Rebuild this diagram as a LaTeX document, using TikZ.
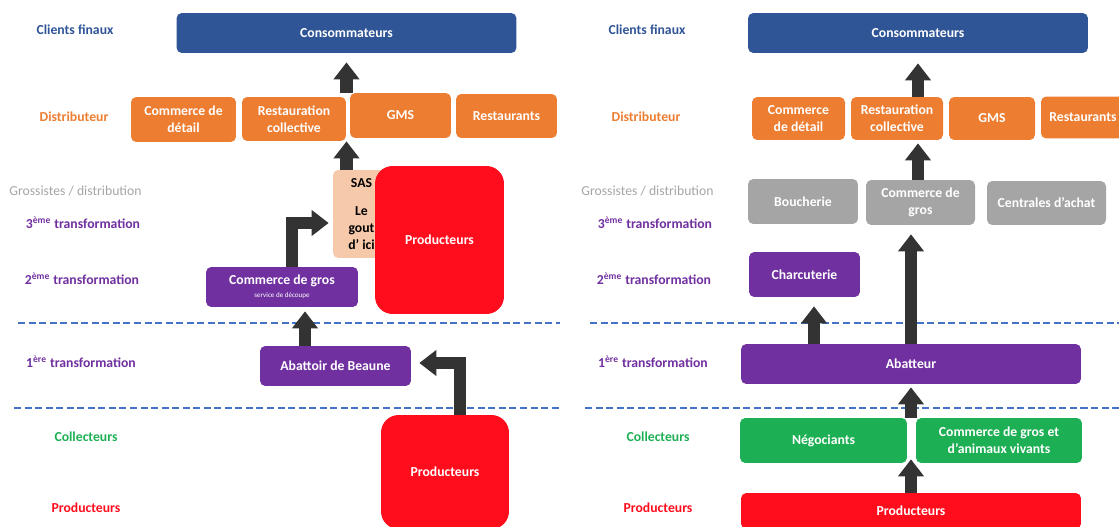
\documentclass[tikz,border=0pt]{standalone}
\usepackage{fontspec}
\setmainfont{Carlito}
\usepackage{tikz}
\usetikzlibrary{
  % block arrows
  arrows.meta,%
  calc,%
  positioning
}
\definecolor{bleu}{HTML}{2F5597}
\definecolor{orangebox}{HTML}{ED7D31}
\definecolor{grisbox}{HTML}{A5A5A5}
\definecolor{violet}{HTML}{7030A0}
\definecolor{vert}{HTML}{1DAF54}
\definecolor{rouge}{HTML}{FF0D1D}
\definecolor{peche}{HTML}{F6C9AA}
\definecolor{flowgray}{HTML}{333333}
\definecolor{sepblue}{HTML}{4472C4}
\tikzset{>=latex}
\tikzset{font=\fontsize{7.8}{9.6}\selectfont\bfseries}
\tikzset{box/.style={rounded corners=3pt, text=white, align=center, inner sep=1pt}}
\tikzset{flow/.style={draw=flowgray, line width=0.25cm, line join=miter,
  -{Triangle[width=0.5cm, length=0.34cm]}}}
\tikzset{sep/.style={draw=sepblue, line width=1.1pt, dash pattern=on 4pt off 2pt}}

\begin{document}
\begin{tikzpicture}[x=0.02cm, y=-0.02cm]
  \useasboundingbox (0, 0) rectangle (1119, 527); %
  % dashed separations
  \coordinate (s1a) at (18, 323); \coordinate (s1b) at (560, 323); %
  \coordinate (s2a) at (14, 408); \coordinate (s2b) at (560, 408); %
  \coordinate (s3a) at (590, 323); \coordinate (s3b) at (1119, 323); %
  \coordinate (s4a) at (585, 408); \coordinate (s4b) at (1119, 408); %
  \draw[sep] (s1a) -- (s1b); %
  \draw[sep] (s2a) -- (s2b); %
  \draw[sep] (s3a) -- (s3b); %
  \draw[sep] (s4a) -- (s4b); %
  % level labels, same on both panels
  \foreach \dx in {0, 572} {
    \node[text=bleu] (clients\dx) at (75+\dx, 30) {Clients finaux}; %
    \node[text=orangebox] (distrib\dx) at (74+\dx, 117) {Distributeur}; %
    \node[text=grisbox, font=\fontsize{7.8}{9.6}\selectfont] (grossistes\dx) at (75.5+\dx, 191) {Grossistes / distribution}; %
    \node[text=violet] (trois\dx) at (83+\dx, 223) {3\textsuperscript{ème} transformation}; %
    \node[text=violet] (deux\dx) at (82+\dx, 279) {2\textsuperscript{ème} transformation}; %
    \node[text=violet] (un\dx) at (81+\dx, 362) {1\textsuperscript{ère} transformation}; %
    \node[text=vert] (collect\dx) at (86+\dx, 437) {Collecteurs}; %
    \node[text=rouge] (prodlbl\dx) at (86+\dx, 508) {Producteurs}; %
  }
  % left panel
  \node[box, fill=bleu, minimum width=6.8cm, minimum height=0.8cm] (conso1) at (346.5, 33) {Consommateurs}; %
  \node[box, fill=orangebox, minimum width=2.1cm, minimum height=0.9cm] (detail1) at (183.5, 119.5) {Commerce de\\détail}; %
  \node[box, fill=orangebox, minimum width=2.08cm, minimum height=0.88cm] (resto1) at (294, 119) {Restauration\\collective}; %
  \node[box, fill=orangebox, minimum width=2.02cm, minimum height=0.9cm] (gms1) at (400.5, 115.5) {GMS}; %
  \node[box, fill=orangebox, minimum width=2.02cm, minimum height=0.88cm] (rest1) at (506.5, 116) {Restaurants}; %
  \node[box, fill=peche, text=black, minimum width=1.14cm, minimum height=1.76cm] (sas) at (361.5, 214) {SAS\\[6pt]Le\\gout\\d’ ici}; %
  \node[box, fill=rouge, rounded corners=10pt, minimum width=2.58cm, minimum height=2.96cm] (prod1) at (439.5, 240) {Producteurs}; %
  \node[box, fill=violet, minimum width=3.04cm, minimum height=0.8cm] (gros1) at (282, 287) {Commerce de gros\\[-2pt]{\fontsize{4}{5}\selectfont\mdseries service de découpe}}; %
  \node[box, fill=violet, minimum width=3.02cm, minimum height=0.8cm] (abat1) at (335.5, 366) {Abattoir de Beaune}; %
  \node[box, fill=rouge, rounded corners=10pt, minimum width=2.56cm, minimum height=2.28cm] (prod2) at (445, 472) {Producteurs}; %
  \coordinate (a1) at ($(abat1.north)+(-30.5,0)$); %
  \draw[flow, shorten >=0.18cm] (conso1.south |- gms1.north) -- (conso1.south); %
  \draw[flow] (sas.north -| conso1.south) -- (conso1.south |- resto1.south); %
  \draw[flow, shorten >=0.08cm] ($(gros1.north)+(10,0)$) |- ($(sas.west)+(0,9)$); %
  \draw[flow, shorten >=0.08cm] (a1) -- (a1 |- gros1.south); %
  \draw[flow, shorten >=0.16cm] ($(prod2.north)+(15,0)$) |- ($(abat1.east)+(0,-3)$); %
  % right panel
  \node[box, fill=bleu, minimum width=6.8cm, minimum height=0.8cm] (conso2) at (918, 33) {Consommateurs}; %
  \node[box, fill=orangebox, minimum width=1.86cm, minimum height=0.86cm] (detail2) at (798.5, 118.5) {Commerce\\de détail}; %
  \node[box, fill=orangebox, minimum width=1.84cm, minimum height=0.86cm] (resto2) at (897, 118.5) {Restauration\\collective}; %
  \node[box, fill=orangebox, minimum width=1.72cm, minimum height=0.86cm] (gms2) at (992, 118.5) {GMS}; %
  \node[box, fill=orangebox, minimum width=1.68cm, minimum height=0.84cm] (rest2) at (1083, 117.5) {Restaurants}; %
  \node[box, fill=grisbox, minimum width=2.2cm, minimum height=0.9cm] (bouch) at (803, 201.5) {Boucherie}; %
  \node[box, fill=grisbox, minimum width=2.18cm, minimum height=0.9cm] (gros2) at (920.5, 202.5) {Commerce de\\gros}; %
  \node[box, fill=grisbox, minimum width=2.38cm, minimum height=0.88cm] (centr) at (1046.5, 203) {Centrales d’achat}; %
  \node[box, fill=violet, minimum width=2.22cm, minimum height=0.9cm] (charc) at (804.5, 274.5) {Charcuterie}; %
  \node[box, fill=violet, minimum width=6.8cm, minimum height=0.8cm] (abat2) at (911, 364) {Abatteur}; %
  \node[box, fill=vert, minimum width=3.34cm, minimum height=0.9cm] (nego) at (823.5, 440.5) {Négociants}; %
  \node[box, fill=vert, minimum width=3.32cm, minimum height=0.9cm] (cgav) at (999, 440.5) {Commerce de gros et\\d’animaux vivants}; %
  \node[box, fill=rouge, minimum width=6.8cm, minimum height=0.72cm] (prod3) at (911, 511) {Producteurs}; %
  \coordinate (a2) at ($(charc.south)+(9.5,0)$); %
  \draw[flow, shorten >=0.2cm] (conso2.south |- resto2.north) -- (conso2.south); %
  \draw[flow, shorten >=0.06cm] (conso2.south |- gros2.north) -- (conso2.south |- resto2.south); %
  \draw[flow, shorten >=0.18cm] (abat2.north) -- (abat2.north |- gros2.south); %
  \draw[flow, shorten >=0.18cm] (a2 |- abat2.north) -- (a2); %
  \draw[flow, shorten >=0.06cm] (abat2.south |- nego.north) -- (abat2.south); %
  \draw[flow, shorten >=-0.08cm] (prod3.north) -- (prod3.north |- nego.south); %
\end{tikzpicture}
\end{document}
